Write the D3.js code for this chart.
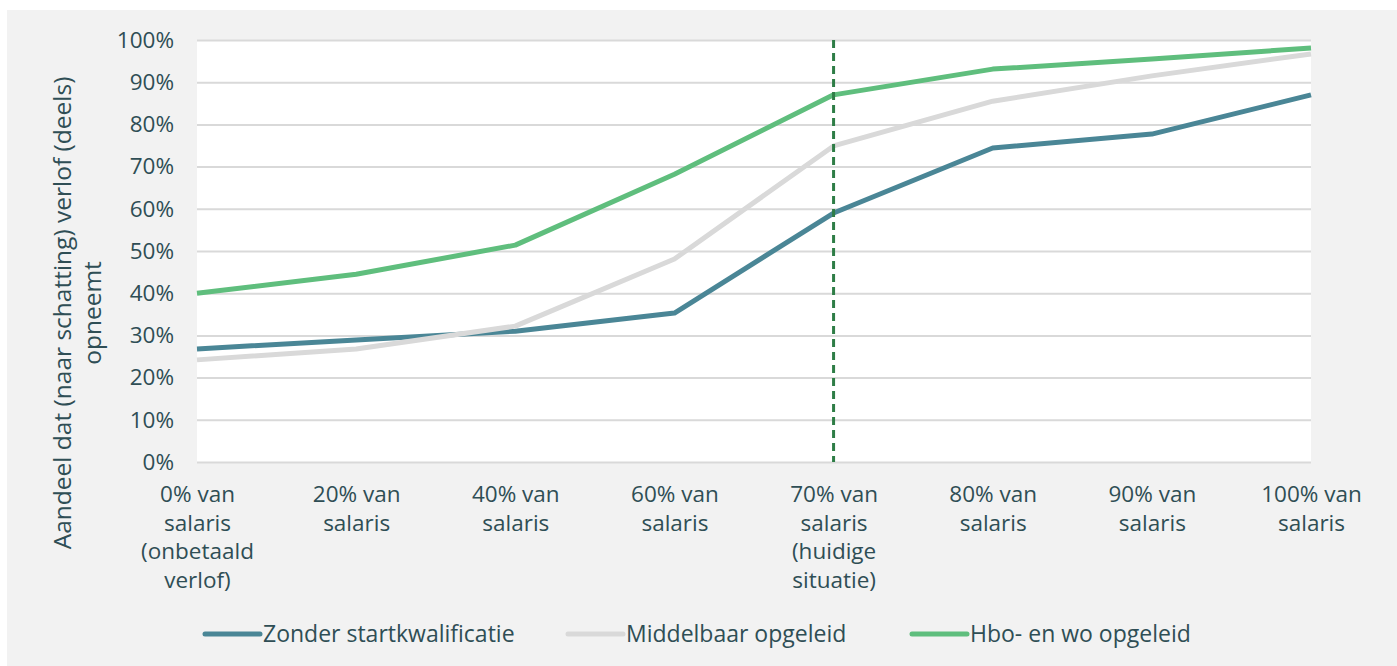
<!DOCTYPE html>
<html><head><meta charset="utf-8">
<script src="https://cdn.jsdelivr.net/npm/d3@7"></script>
<style>
html,body{margin:0;padding:0;background:#fff;}
svg{display:block;}
text{font-family:"Open Sans",Lato,sans-serif;fill:#2f4e55;}
</style></head><body>
<svg id="c" width="1397" height="666"></svg>
<script>
const categories = [
  ["0% van","salaris","(onbetaald","verlof)"],
  ["20% van","salaris"],
  ["40% van","salaris"],
  ["60% van","salaris"],
  ["70% van","salaris","(huidige","situatie)"],
  ["80% van","salaris"],
  ["90% van","salaris"],
  ["100% van","salaris"]
];
const seriesNames = ["Zonder startkwalificatie","Middelbaar opgeleid","Hbo- en wo opgeleid"];
const zonder = [26.8, 28.9, 31.0, 35.3, 59.0, 74.4, 77.7, 87.0];
const middelbaar = [24.2, 26.8, 32.2, 48.1, 74.9, 85.5, 91.5, 96.7];
const hbo = [40.0, 44.5, 51.4, 68.2, 87.0, 93.1, 95.5, 98.1];
const yTicks = [0,10,20,30,40,50,60,70,80,90,100];
const markerIndex = 4;
const colors = ["#4a8696","#d9d9d9","#5fbe7d"];

const svg = d3.select("#c");
svg.append("rect").attr("x",7).attr("y",10).attr("width",1390).attr("height",656).attr("fill","#f2f2f2");

const L=197, R=1311, T=40, B=462;
const x = d3.scalePoint().domain(d3.range(categories.length)).range([L,R]);
const y = d3.scaleLinear().domain([0,100]).range([B,T]);

svg.append("rect").attr("x",L).attr("y",T).attr("width",R-L).attr("height",B-T).attr("fill","#fff");

const yAxis = svg.append("g").attr("transform",`translate(${L},0)`)
  .call(d3.axisLeft(y).tickValues(yTicks).tickFormat(d=>d+"%").tickSize(-(R-L)).tickPadding(23));
yAxis.select(".domain").remove();
yAxis.selectAll("line").attr("stroke","#d9d9d9").attr("stroke-width",2);
yAxis.selectAll("text").attr("font-size",22.5).style("fill","#2f4e55");

const xAxis = svg.append("g").attr("transform",`translate(0,${B})`)
  .call(d3.axisBottom(x).tickSize(0).tickFormat(""));
xAxis.select(".domain").remove();
xAxis.selectAll(".tick").each(function(d){
  const t = d3.select(this).append("text").attr("text-anchor","middle").attr("font-size",22.5).style("fill","#2f4e55");
  categories[d].forEach((ln,i)=>t.append("tspan").attr("x",0).attr("y",40+i*28.7).text(ln));
});

const line = d3.line().x((d,i)=>x(i)).y(d=>y(d));
[zonder, middelbaar, hbo].forEach((s,k)=>{
  svg.append("path").datum(s).attr("d",line).attr("fill","none")
    .attr("stroke",colors[k]).attr("stroke-width",5).attr("stroke-linejoin","round");
});

svg.append("line").attr("x1",x(markerIndex)).attr("x2",x(markerIndex)).attr("y1",T).attr("y2",B)
  .attr("stroke","#2e7d46").attr("stroke-width",3).attr("stroke-dasharray","8,5");

const legendX = [205, 568, 912];
seriesNames.forEach((n,k)=>{
  const g = svg.append("g").attr("transform",`translate(${legendX[k]},634)`);
  g.append("line").attr("x1",0).attr("x2",55).attr("stroke",colors[k]).attr("stroke-width",5).attr("stroke-linecap","round");
  g.append("text").attr("x",58).attr("y",8).attr("font-size",23).text(n);
});

const yl = svg.append("text").attr("transform","translate(0,313) rotate(-90)").attr("text-anchor","middle").attr("font-size",24.5);
yl.append("tspan").attr("x",0).attr("y",71).text("Aandeel dat (naar schatting) verlof (deels)");
yl.append("tspan").attr("x",0).attr("y",101).text("opneemt");
</script>
</body></html>
